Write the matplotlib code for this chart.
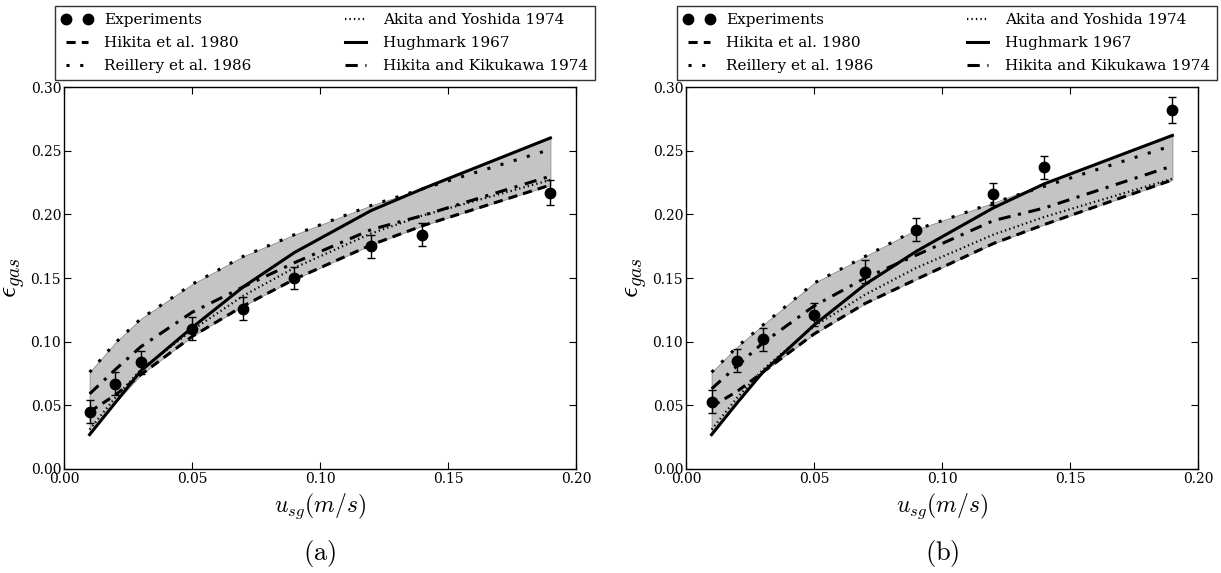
import numpy as np
import matplotlib
matplotlib.use("Agg")
import matplotlib.pyplot as plt
from matplotlib.lines import Line2D

plt.rcParams['font.family'] = ['DejaVu Serif']
plt.rcParams['mathtext.fontset'] = 'cm'

# --------------------------------------------------
# data
# --------------------------------------------------
usg = [0.01, 0.02, 0.03, 0.05, 0.07, 0.09, 0.12, 0.14, 0.19]

exp_a = [0.045, 0.067, 0.084, 0.110, 0.126, 0.150, 0.175, 0.184, 0.217]
err_a = [0.009, 0.009, 0.009, 0.009, 0.009, 0.009, 0.009, 0.009, 0.010]
hikita80_a = [0.045, 0.058, 0.074, 0.104, 0.128, 0.149, 0.176, 0.191, 0.223]
reillery_a = [0.076, 0.099, 0.118, 0.145, 0.167, 0.184, 0.207, 0.220, 0.251]
akita_a = [0.031, 0.056, 0.078, 0.109, 0.136, 0.158, 0.185, 0.199, 0.227]
hughmark_a = [0.027, 0.052, 0.077, 0.111, 0.143, 0.170, 0.203, 0.220, 0.260]
hk74_a = [0.059, 0.078, 0.096, 0.123, 0.143, 0.162, 0.188, 0.199, 0.230]

exp_b = [0.053, 0.085, 0.102, 0.121, 0.155, 0.188, 0.216, 0.237, 0.282]
err_b = [0.009, 0.009, 0.009, 0.009, 0.009, 0.009, 0.009, 0.009, 0.010]
hikita80_b = [0.049, 0.061, 0.076, 0.106, 0.130, 0.149, 0.177, 0.192, 0.227]
reillery_b = [0.076, 0.096, 0.113, 0.146, 0.167, 0.188, 0.209, 0.222, 0.254]
akita_b = [0.031, 0.056, 0.078, 0.112, 0.137, 0.158, 0.184, 0.198, 0.228]
hughmark_b = [0.027, 0.052, 0.076, 0.113, 0.145, 0.171, 0.205, 0.224, 0.262]
hk74_b = [0.063, 0.081, 0.099, 0.128, 0.150, 0.168, 0.195, 0.205, 0.238]

labels = ["Experiments", "Hikita et al. 1980", "Reillery et al. 1986",
          "Akita and Yoshida 1974", "Hughmark 1967",
          "Hikita and Kikukawa 1974"]

panels = [
    ("(a)", exp_a, err_a, hikita80_a, reillery_a, akita_a, hughmark_a, hk74_a),
    ("(b)", exp_b, err_b, hikita80_b, reillery_b, akita_b, hughmark_b, hk74_b),
]

fig = plt.figure(figsize=(12.21, 5.73), dpi=100)
lefts = [64 / 1221, 686 / 1221]
width = 512 / 1221
bottom = (573 - 469) / 573
height = 382 / 573

for left, (tag, exp, err, h80, rei, aki, hug, hk) in zip(lefts, panels):
    ax = fig.add_axes([left, bottom, width, height])
    x = np.array(usg)
    curves = np.array([h80, rei, aki, hug, hk])
    ax.fill_between(x, curves.min(axis=0), curves.max(axis=0),
                    facecolor="#c4c4c4", edgecolor="0.55", lw=0.6, zorder=1)

    ax.errorbar(usg, exp, yerr=err, fmt="o", color="black", ms=7.5,
                ecolor="black", elinewidth=1, capsize=3, capthick=1, zorder=5)
    h_h80, = ax.plot(usg, h80, color="black", lw=2.2, ls=(0, (3, 2)), zorder=3)
    h_rei, = ax.plot(usg, rei, color="black", lw=2.2, ls=(0, (1, 3.5)), zorder=3)
    h_aki, = ax.plot(usg, aki, color="black", lw=1.6, ls=(0, (0.6, 1.4)), zorder=3)
    h_hug, = ax.plot(usg, hug, color="black", lw=2.2, ls="-", zorder=3)
    h_hk, = ax.plot(usg, hk, color="black", lw=2.2, ls=(0, (4, 2.5, 1, 2.5)),
                    zorder=3)
    h_exp = Line2D([], [], marker="o", ls="none", color="black", ms=7.5)

    ax.set_xlim(0, 0.2)
    ax.set_ylim(0, 0.3)
    ax.set_xticks([0.0, 0.05, 0.10, 0.15, 0.20])
    ax.set_yticks([0.0, 0.05, 0.10, 0.15, 0.20, 0.25, 0.30])
    ax.xaxis.set_major_formatter(matplotlib.ticker.FormatStrFormatter("%.2f"))
    ax.yaxis.set_major_formatter(matplotlib.ticker.FormatStrFormatter("%.2f"))
    ax.tick_params(direction="in", top=True, right=True, length=5,
                   labelsize=10, pad=2)
    for sp in ax.spines.values():
        sp.set_linewidth(1.0)

    ax.set_xlabel(r"$u_{sg}(m/s)$", fontsize=17, labelpad=4)
    ax.set_ylabel(r"$\epsilon_{gas}$", fontsize=20, labelpad=2)
    ax.text(0.5, -0.22, r"$\mathrm{" + tag + "}$", transform=ax.transAxes,
            ha="center", va="center", fontsize=19)

    handles = [h_exp, h_h80, h_rei, h_aki, h_hug, h_hk]
    leg = ax.legend(handles, labels, loc="lower left",
                    bbox_to_anchor=(-0.018, 1.018, 1.055, 0.2),
                    mode="expand", ncol=2, numpoints=2, fontsize=11,
                    frameon=True, fancybox=False, borderaxespad=0,
                    handlelength=2.0, labelspacing=0.6, borderpad=0.45)
    leg.get_frame().set_edgecolor("black")
    leg.get_frame().set_linewidth(1.0)

fig.savefig("out.png", dpi=100)
